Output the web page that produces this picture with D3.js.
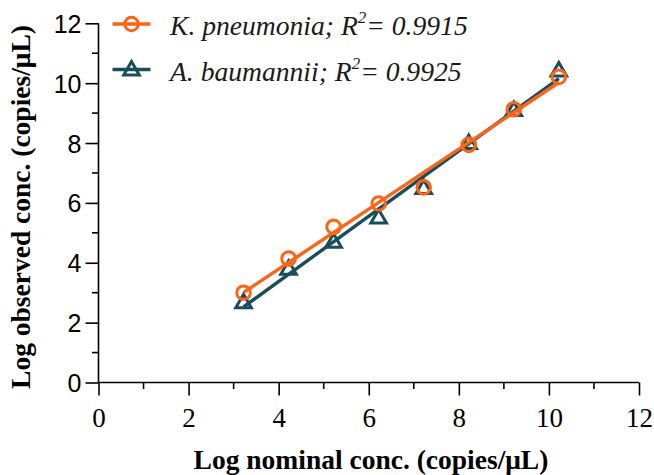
<!DOCTYPE html>
<html>
<head>
<meta charset="utf-8">
<script src="https://cdn.jsdelivr.net/npm/d3@7/dist/d3.min.js"></script>
<style>
  html, body { margin: 0; padding: 0; background: #fff; }
  svg { display: block; }
</style>
</head>
<body>
<div id="chart"></div>
<script>
// ── Data ───────────────────────────────────────────────────────────────────
const nominal     = [3.22, 4.22, 5.22, 6.22, 7.22, 8.22, 9.22, 10.22];
const kPneumonia  = [3.00, 4.14, 5.20, 5.98, 6.52, 7.94, 9.13, 10.21];
const aBaumannii  = [2.68, 3.80, 4.70, 5.51, 6.50, 8.00, 9.10, 10.42];
const xTicks      = [0, 2, 4, 6, 8, 10, 12];
const yTicks      = [0, 2, 4, 6, 8, 10, 12];

const SERIES = [
  { name: 'K. pneumonia', r2: '0.9915', values: kPneumonia, color: '#fa6518', symbol: 'circle' },
  { name: 'A. baumannii', r2: '0.9925', values: aBaumannii, color: '#1a4d5b', symbol: 'triangle' },
];

const SERIF = '"Liberation Serif", "Times New Roman", serif';
const SANS  = '"Liberation Sans", Arial, sans-serif';

// least-squares fit line through each series
function fit(xs, ys) {
  const mx = d3.mean(xs), my = d3.mean(ys);
  let sxy = 0, sxx = 0;
  xs.forEach((xv, i) => { sxy += (xv - mx) * (ys[i] - my); sxx += (xv - mx) ** 2; });
  const b = sxy / sxx;
  return v => my + b * (v - mx);
}

// ── Layout ─────────────────────────────────────────────────────────────────
const W = 654, H = 475;
const M = { left: 98.5, right: 15, top: 23.3, bottom: 92.5 };

const x = d3.scaleLinear().domain([0, 12]).range([M.left, W - M.right]);
const y = d3.scaleLinear().domain([0, 12]).range([H - M.bottom, M.top]);

const svg = d3.select('#chart').append('svg').attr('width', W).attr('height', H);

// ── Axes ───────────────────────────────────────────────────────────────────
const xAxis = svg.append('g')
  .attr('transform', `translate(0,${y(0)})`)
  .call(d3.axisBottom(x).tickValues(xTicks).tickFormat(d3.format('d')).tickSize(13).tickPadding(12));
xAxis.selectAll('text').attr('font-family', SERIF).attr('font-size', 27).attr('fill', '#000');

// minor x ticks
svg.append('g').selectAll('line')
  .data(d3.range(1, 12, 2))
  .join('line')
  .attr('x1', d => x(d)).attr('x2', d => x(d))
  .attr('y1', y(0)).attr('y2', y(0) + 6.5)
  .attr('stroke', '#000').attr('stroke-width', 1.6);

const yAxis = svg.append('g')
  .attr('transform', `translate(${x(0)},0)`)
  .call(d3.axisLeft(y).tickValues(yTicks).tickFormat(d3.format('d')).tickSize(13).tickPadding(4));
yAxis.selectAll('text').attr('font-family', SANS).attr('font-size', 25).attr('fill', '#000').attr('dy', '0.36em');

svg.append('g').selectAll('line')
  .data(d3.range(1, 12, 2))
  .join('line')
  .attr('y1', d => y(d)).attr('y2', d => y(d))
  .attr('x1', x(0)).attr('x2', x(0) - 6.5)
  .attr('stroke', '#000').attr('stroke-width', 1.6);

svg.selectAll('.domain, .tick line').attr('stroke', '#000').attr('stroke-width', 1.6);
xAxis.select('.domain').attr('d', `M${x(0)},0H${x(12)}`);
yAxis.select('.domain').attr('d', `M0,${y(0)}V${y(12)}`);

// ── Titles ─────────────────────────────────────────────────────────────────
svg.append('text')
  .attr('x', 371).attr('y', 469)
  .attr('text-anchor', 'middle')
  .attr('font-family', SERIF)
  .attr('font-weight', 'bold').attr('font-size', 27.5)
  .text('Log nominal conc. (copies/μL)');

svg.append('text')
  .attr('transform', 'translate(30,207) rotate(-90)')
  .attr('text-anchor', 'middle')
  .attr('font-family', SERIF)
  .attr('font-weight', 'bold').attr('font-size', 27.5)
  .text('Log observed conc. (copies/μL)');

// ── Series ─────────────────────────────────────────────────────────────────
const triPath = d3.symbol().type(d3.symbolTriangle).size(105);

function drawSymbol(g, s, cx, cy) {
  if (s.symbol === 'circle') {
    g.append('circle').attr('cx', cx).attr('cy', cy).attr('r', 6.8)
      .attr('fill', 'none').attr('stroke', s.color).attr('stroke-width', 3);
  } else {
    g.append('path').attr('d', triPath()).attr('transform', `translate(${cx},${cy + 1})`)
      .attr('fill', 'none').attr('stroke', s.color).attr('stroke-width', 3);
  }
}

const plot = svg.append('g');
for (const s of [SERIES[1], SERIES[0]]) {
  const f = fit(nominal, s.values);
  const x0 = d3.min(nominal), x1 = d3.max(nominal);
  plot.append('line')
    .attr('x1', x(x0)).attr('y1', y(f(x0)))
    .attr('x2', x(x1)).attr('y2', y(f(x1)))
    .attr('stroke', s.color).attr('stroke-width', 3.4);
  const g = plot.append('g');
  nominal.forEach((n, i) => drawSymbol(g, s, x(n), y(s.values[i])));
}

// ── Legend ─────────────────────────────────────────────────────────────────
const legend = svg.append('g');
SERIES.forEach((s, i) => {
  const ly = 24 + i * 45.5;
  legend.append('line').attr('x1', 112.5).attr('x2', 150.5).attr('y1', ly).attr('y2', ly)
    .attr('stroke', s.color).attr('stroke-width', 3.4);
  drawSymbol(legend, s, 131.5, ly);
  const t = legend.append('text')
    .attr('x', 170).attr('y', ly + 11)
    .attr('font-family', SERIF)
    .attr('font-style', 'italic').attr('font-size', 27.6).attr('fill', '#1a1a1a');
  t.append('tspan').text(`${s.name}; R`);
  t.append('tspan').attr('font-size', 17).attr('dy', -12).text('2');
  t.append('tspan').attr('dy', 12).text(`= ${s.r2}`);
});
</script>
</body>
</html>
